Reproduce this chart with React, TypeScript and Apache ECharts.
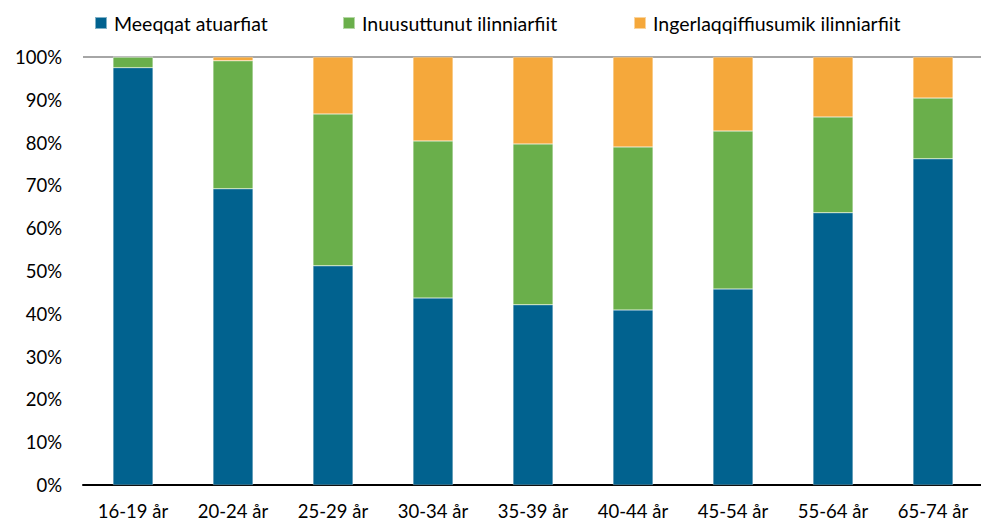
import React, { useEffect, useRef } from "react";
import * as echarts from "echarts";

const categories = ["16-19 år", "20-24 år", "25-29 år", "30-34 år", "35-39 år", "40-44 år", "45-54 år", "55-64 år", "65-74 år"];
const seriesNames = ["Meeqqat atuarfiat", "Inuusuttunut ilinniarfiit", "Ingerlaqqiffiusumik ilinniarfiit"];
const primary = [97.5, 69.2, 51.2, 43.7, 42.1, 40.9, 45.8, 63.6, 76.2];
const youth = [2.5, 29.9, 35.5, 36.7, 37.6, 38.1, 36.9, 22.4, 14.2];
const further = [0, 0.9, 13.3, 19.6, 20.3, 21.0, 17.3, 14.0, 9.6];
const colors = ["#01628F", "#6AAF4B", "#F5A83B"];
const legendLefts = [86, 334, 625];

export default function App() {
  const ref = useRef<HTMLDivElement>(null);
  useEffect(() => {
    const chart = echarts.init(ref.current!, null, { renderer: "svg" });
    const font = "Lato, 'Open Sans', sans-serif";
    const gridColors = Array.from({ length: 11 }, (_, i) => (i === 10 ? "#A6A6A6" : "rgba(0,0,0,0)"));
    const data = [primary, youth, further];
    chart.setOption({
      animation: false,
      textStyle: { fontFamily: font },
      legend: seriesNames.map((name, i) => ({
        top: 5,
        left: legendLefts[i],
        padding: 0,
        itemWidth: 12,
        itemHeight: 12,
        itemGap: 0,
        icon: "rect",
        textStyle: { fontSize: 19.5, color: "#000", fontFamily: font, padding: [0, 0, 0, 2] },
        data: [name],
      })),
      grid: { left: 75, right: 6, top: 49, bottom: 36 },
      xAxis: {
        type: "category",
        data: categories,
        axisLine: { lineStyle: { color: "#000", width: 2 } },
        axisTick: { show: false },
        axisLabel: { fontSize: 18.5, color: "#000", margin: 16, fontFamily: font },
      },
      yAxis: {
        type: "value",
        min: 0,
        max: 100,
        interval: 10,
        axisLine: { show: false },
        axisTick: { show: false },
        axisLabel: { fontSize: 18.5, color: "#000", formatter: "{value}%", margin: 21, fontFamily: font },
        splitLine: { show: true, lineStyle: { color: gridColors, width: 2 } },
      },
      series: seriesNames.map((name, i) => ({
        name,
        type: "bar",
        stack: "total",
        barWidth: "40%",
        data: data[i],
        itemStyle: { color: colors[i], borderColor: "rgba(255,255,255,0.5)", borderWidth: 0.5 },
      })),
    });
    return () => chart.dispose();
  }, []);
  return <div ref={ref} style={{ width: 981, height: 513 }} />;
}
